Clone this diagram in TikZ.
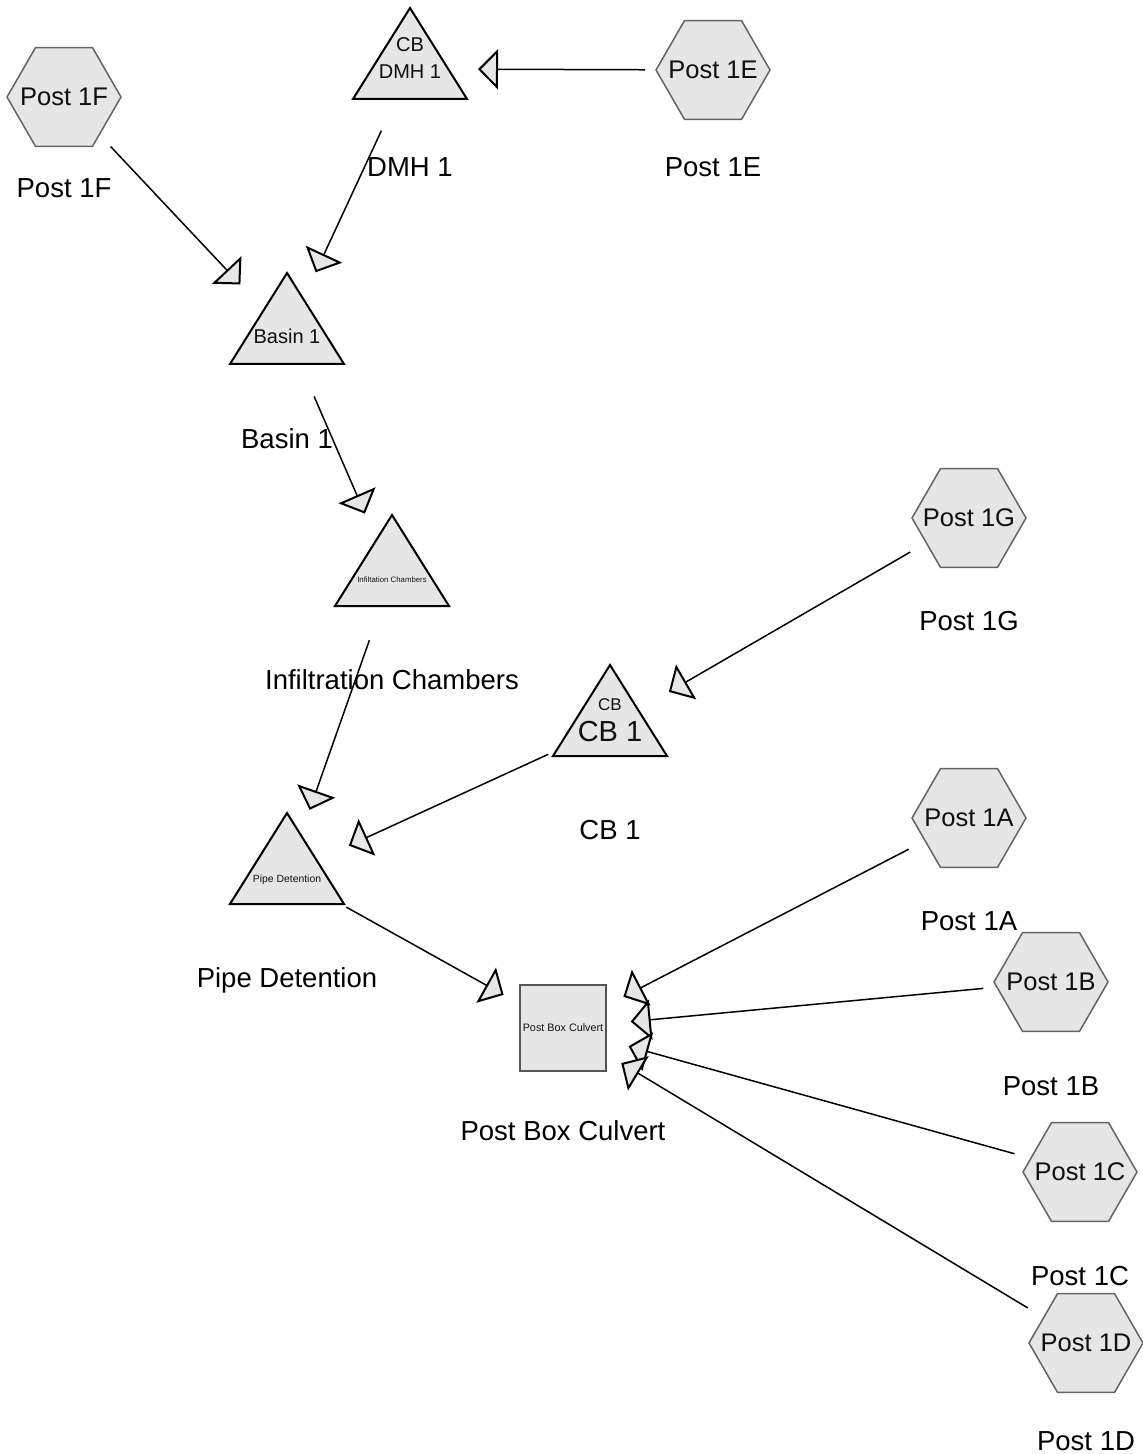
\documentclass[tikz,border=0pt]{standalone}
\usepackage{fontspec}
\setmainfont{Liberation Sans}
\usetikzlibrary{arrows.meta}
\definecolor{shapefill}{RGB}{230,230,230}
\definecolor{hexline}{RGB}{100,100,100}
\definecolor{boxline}{RGB}{85,85,85}
\definecolor{txt}{RGB}{15,15,15}
\newcommand\fsz[1]{\fontsize{#1}{#1}\selectfont}
\newcommand\tribox[3]{%
  \coordinate (#1) at (#2,#3);
  \draw[triline] (#2,{#3-61}) -- ({#2+57},{#3+30}) -- ({#2-57},{#3+30}) -- cycle;}
\newcommand\hexbox[4]{%
  \draw[hexline] ({#2-57},#3) -- ({#2-28.5},{#3-49.4}) -- ({#2+28.5},{#3-49.4})
    -- ({#2+57},#3) -- ({#2+28.5},{#3+49.4}) -- ({#2-28.5},{#3+49.4}) -- cycle;
  \node[hextext] (#1) at (#2,#3) {#4};}
\tikzset{
  hexline/.style={fill=shapefill, draw=hexline, line width=0.75pt, line join=miter},
  hextext/.style={inner sep=0pt, text=txt, font=\fsz{12.75}},
  triline/.style={fill=shapefill, draw=black, line width=1pt, line join=miter},
  boxnode/.style={rectangle, minimum size=43pt, inner sep=0pt, fill=shapefill,
    draw=boxline, line width=1.2pt, text=txt, font=\fsz{5.4}},
  tin/.style={anchor=base, inner sep=0pt, text=txt},
  lab/.style={anchor=base, inner sep=0pt, text=black, font=\fsz{13.75}},
  edge/.style={draw=black, line width=0.75pt, shorten <=34pt, shorten >=34pt,
    -{Triangle[length=10pt,width=20pt,fill=shapefill,line width=1pt]}}
}
\begin{document}
\begin{tikzpicture}[x=0.5pt,y=-0.5pt]
\useasboundingbox (0,0) rectangle (1143,1454);
% hexagons
\hexbox{p1f}{64}{97}{Post 1F}
\hexbox{p1e}{713}{70}{Post 1E}
\hexbox{p1g}{969}{518}{Post 1G}
\hexbox{p1a}{969}{818}{Post 1A}
\hexbox{p1b}{1051}{982}{Post 1B}
\hexbox{p1c}{1080}{1172}{Post 1C}
\hexbox{p1d}{1086}{1343}{Post 1D}
% triangles
\tribox{dmh}{410}{69}
\tribox{basin}{287}{334}
\tribox{infil}{392}{576}
\tribox{cb1}{610}{726}
\tribox{pipe}{287}{874}
% box
\node[boxnode] (pbc) at (563,1028) {Post Box Culvert};
% texts inside triangles
\node[tin, font=\fsz{10}] (dmhcb) at (410,52) {CB};
\node[tin, font=\fsz{10}] (dmhin) at (410,79) {DMH 1};
\node[tin, font=\fsz{10}] (basinin) at (287,344) {Basin 1};
\node[tin, font=\fsz{3.9}] (infilin) at (392,582) {Infiltation Chambers};
\node[tin, font=\fsz{8.5}] (cb1cb) at (610,710) {CB};
\node[tin, font=\fsz{14.5}] (cb1in) at (610,741) {CB 1};
\node[tin, font=\fsz{5.2}] (pipein) at (287,882) {Pipe Detention};
% labels
\node[lab] (p1flab) at (64,198) {Post 1F};
\node[lab] (dmhlab) at (410,177) {DMH 1};
\node[lab] (p1elab) at (713,177) {Post 1E};
\node[lab] (basinlab) at (287,448) {Basin 1};
\node[lab] (infillab) at (392,689) {Infiltration Chambers};
\node[lab] (p1glab) at (969,630) {Post 1G};
\node[lab] (cb1lab) at (610,839) {CB 1};
\node[lab] (p1alab) at (969,930) {Post 1A};
\node[lab] (pipelab) at (287,987) {Pipe Detention};
\node[lab] (p1blab) at (1051,1095) {Post 1B};
\node[lab] (pbclab) at (563,1140) {Post Box Culvert};
\node[lab] (p1clab) at (1080,1285) {Post 1C};
\node[lab] (p1dlab) at (1086,1450) {Post 1D};
% edges
\draw[edge] (p1e.center) -- (dmh);
\draw[edge] (dmh) -- (basin);
\draw[edge] (p1f.center) -- (basin);
\draw[edge] (basin) -- (infil);
\draw[edge] (infil) -- (pipe);
\draw[edge] (p1g.center) -- (cb1);
\draw[edge] (cb1) -- (pipe);
\draw[edge] (pipe) -- (pbc.center);
\draw[edge] (p1a.center) -- (pbc.center);
\draw[edge] (p1b.center) -- (pbc.center);
\draw[edge] (p1c.center) -- (pbc.center);
\draw[edge] (p1d.center) -- (pbc.center);
\end{tikzpicture}
\end{document}
